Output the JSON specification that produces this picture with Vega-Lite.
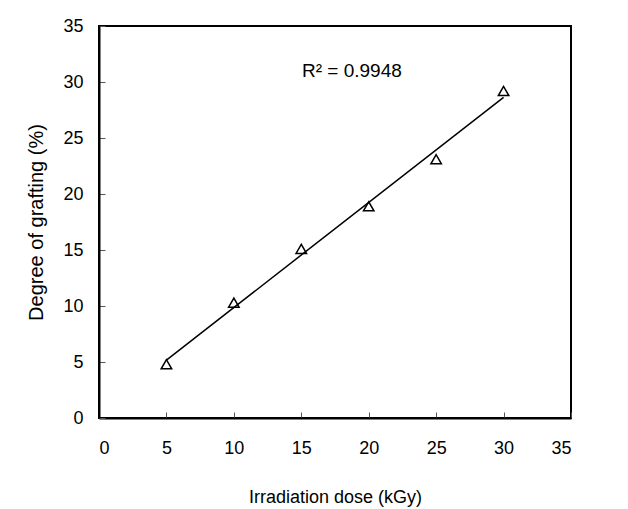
{
  "$schema": "https://vega.github.io/schema/vega-lite/v6.json",
  "width": 472,
  "height": 392,
  "autosize": "none",
  "padding": {"left": 99, "top": 26, "right": 57, "bottom": 91},
  "background": "white",
  "config": {
    "view": {"stroke": "black", "strokeWidth": 2},
    "font": "Liberation Sans",
    "axis": {
      "grid": false,
      "domainColor": "black",
      "domainWidth": 2,
      "tickColor": "#555",
      "tickSize": -6,
      "labelFontSize": 18,
      "labelColor": "black",
      "titleFontSize": 18,
      "titleFontWeight": "normal",
      "titleColor": "black"
    }
  },
  "datasets": {
    "pts": [
      {"dose": 5, "grafting": 4.8},
      {"dose": 10, "grafting": 10.3},
      {"dose": 15, "grafting": 15.1},
      {"dose": 20, "grafting": 18.9},
      {"dose": 25, "grafting": 23.1},
      {"dose": 30, "grafting": 29.2}
    ],
    "note": [{"dose": 18.75, "grafting": 31.0, "label": "R² = 0.9948"}]
  },
  "layer": [
    {
      "data": {"name": "pts"},
      "transform": [{"regression": "grafting", "on": "dose", "extent": [5, 30]}],
      "mark": {"type": "line", "color": "black", "strokeWidth": 1.5},
      "encoding": {
        "x": {"field": "dose", "type": "quantitative", "scale": {"domain": [0, 35]},
          "axis": {"values": [0,5,10,15,20,25,30,35], "title": "Irradiation dose (kGy)", "labelPadding": 27, "titlePadding": 31}},
        "y": {"field": "grafting", "type": "quantitative", "scale": {"domain": [0, 35]},
          "axis": {"values": [0,5,10,15,20,25,30,35], "title": "Degree of grafting (%)", "titleFontSize": 20, "labelPadding": 22, "titlePadding": 16}}
      }
    },
    {
      "data": {"name": "pts"},
      "mark": {"type": "point", "shape": "triangle-up", "filled": false, "color": "black", "strokeWidth": 1.5, "size": 110, "opacity": 1},
      "encoding": {
        "x": {"field": "dose", "type": "quantitative"},
        "y": {"field": "grafting", "type": "quantitative"}
      }
    },
    {
      "data": {"name": "note"},
      "mark": {"type": "text", "fontSize": 19, "color": "black"},
      "encoding": {
        "x": {"field": "dose", "type": "quantitative"},
        "y": {"field": "grafting", "type": "quantitative"},
        "text": {"field": "label"}
      }
    }
  ]
}
